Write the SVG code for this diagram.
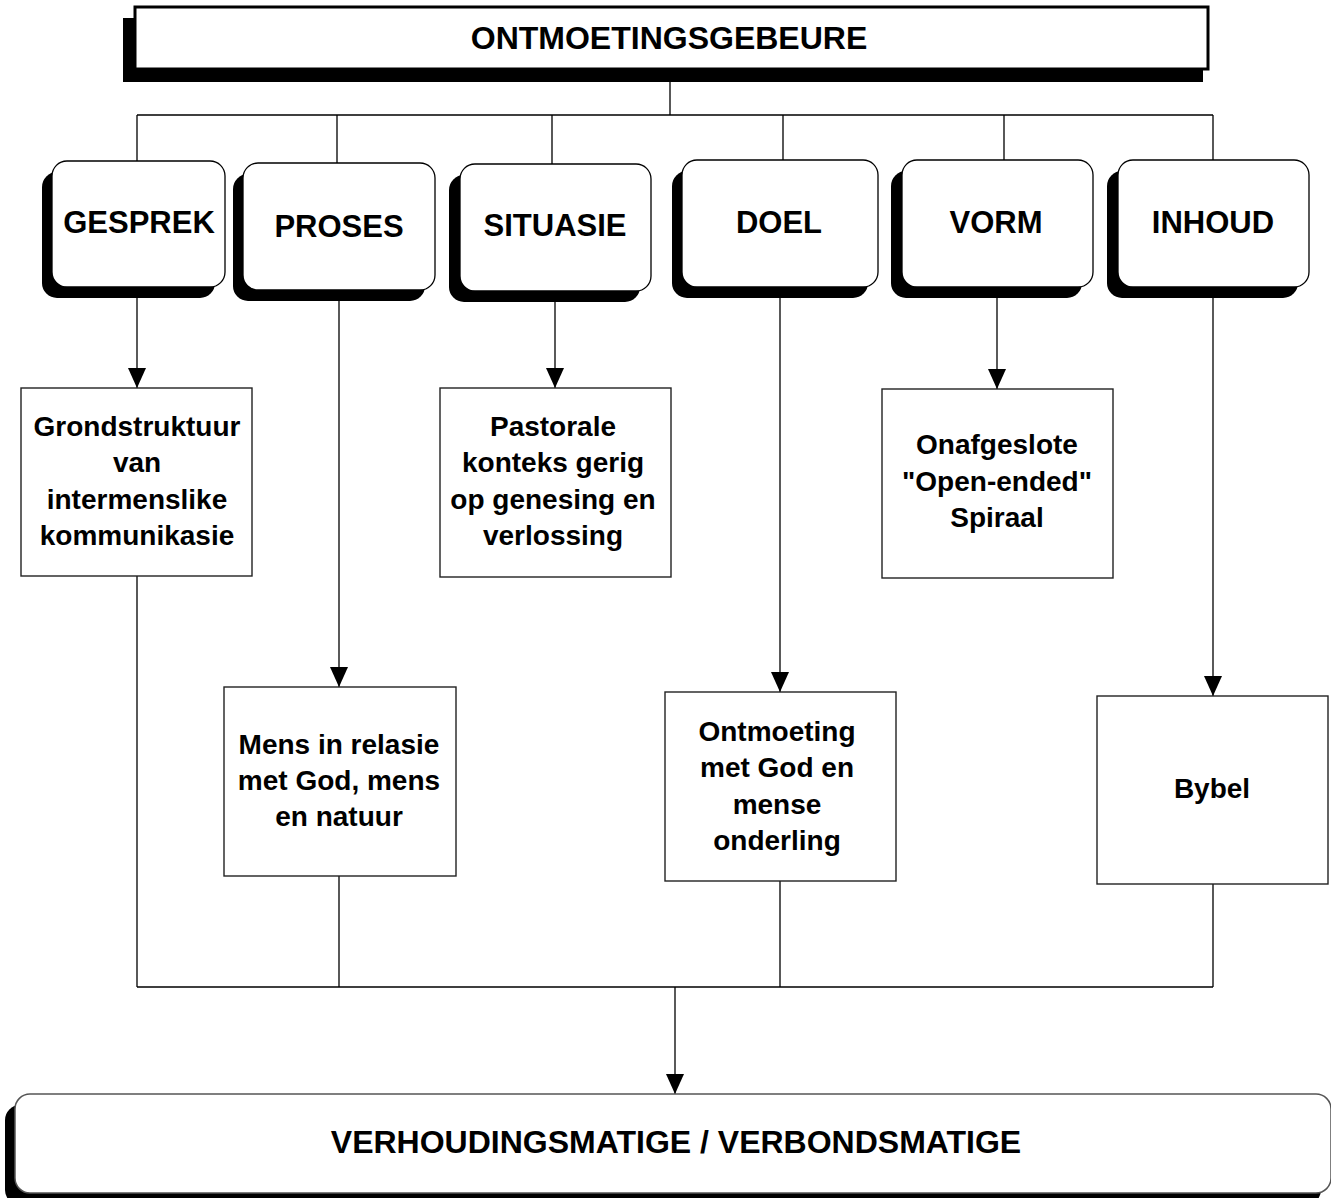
<svg xmlns="http://www.w3.org/2000/svg" width="1331" height="1198" viewBox="0 0 1331 1198">
<style>
text{font-family:"Liberation Sans",Arial,sans-serif;font-weight:bold;fill:#000;text-anchor:middle}
.h{font-size:31px}
.t{font-size:28px}
.big{font-size:32px}
.sh{fill:#000}
.rn{fill:#fff;stroke:#000;stroke-width:1.3}
.bx{fill:#fff;stroke:#222;stroke-width:1.4}
.ln{fill:none;stroke:#000;stroke-width:1.3}
</style>
<defs>
<marker id="ah" markerUnits="userSpaceOnUse" markerWidth="20" markerHeight="18" viewBox="0 0 20 18" refX="20" refY="9" orient="auto">
<path d="M0,0 L20,9 L0,18 Z" fill="#000"/>
</marker>
</defs>
<rect width="1331" height="1198" fill="#fff"/>

<g id="connectors">
<path class="ln" d="M670,82 V115 M137,115 H1213 M137,115 V161 M337,115 V163 M552,115 V164 M783,115 V160 M1004,115 V160 M1213,115 V160"/>
<path class="ln" d="M137,298 V388" marker-end="url(#ah)"/>
<path class="ln" d="M339,301 V687" marker-end="url(#ah)"/>
<path class="ln" d="M555,302 V388" marker-end="url(#ah)"/>
<path class="ln" d="M780,298 V692" marker-end="url(#ah)"/>
<path class="ln" d="M997,298 V389" marker-end="url(#ah)"/>
<path class="ln" d="M1213,298 V696" marker-end="url(#ah)"/>
<path class="ln" d="M137,575 V987 M339,876 V987 M780,881 V987 M1213,884 V987 M137,987 H1213"/>
<path class="ln" d="M675,987 V1094" marker-end="url(#ah)"/>
</g>

<g id="ontmoetingsgebeure">
<rect class="sh" x="123" y="18" width="1080" height="64"/>
<rect x="135" y="7" width="1073" height="62" fill="#fff" stroke="#000" stroke-width="3"/>
<text class="big" x="669" y="49">ONTMOETINGSGEBEURE</text>
</g>

<g id="gesprek">
<rect class="sh" x="42" y="172" width="173" height="126" rx="15"/>
<rect class="rn" x="52" y="161" width="173" height="126" rx="15"/>
<text class="h" x="139" y="233">GESPREK</text>
</g>
<g id="proses">
<rect class="sh" x="233" y="174" width="192" height="127" rx="15"/>
<rect class="rn" x="243" y="163" width="192" height="127" rx="15"/>
<text class="h" x="339" y="237">PROSES</text>
</g>
<g id="situasie">
<rect class="sh" x="449" y="175" width="191" height="127" rx="15"/>
<rect class="rn" x="460" y="164" width="191" height="127" rx="15"/>
<text class="h" x="555" y="236">SITUASIE</text>
</g>
<g id="doel">
<rect class="sh" x="672" y="171" width="196" height="127" rx="15"/>
<rect class="rn" x="682" y="160" width="196" height="127" rx="15"/>
<text class="h" x="779" y="233">DOEL</text>
</g>
<g id="vorm">
<rect class="sh" x="891" y="171" width="191" height="127" rx="15"/>
<rect class="rn" x="902" y="160" width="191" height="127" rx="15"/>
<text class="h" x="996" y="233">VORM</text>
</g>
<g id="inhoud">
<rect class="sh" x="1107" y="171" width="191" height="127" rx="15"/>
<rect class="rn" x="1118" y="160" width="191" height="127" rx="15"/>
<text class="h" x="1213" y="233">INHOUD</text>
</g>

<g id="grondstruktuur">
<rect class="bx" x="21" y="388" width="231" height="188"/>
<text class="t" x="137" y="436">Grondstruktuur</text>
<text class="t" x="137" y="472">van</text>
<text class="t" x="137" y="509">intermenslike</text>
<text class="t" x="137" y="545">kommunikasie</text>
</g>
<g id="pastorale">
<rect class="bx" x="440" y="388" width="231" height="189"/>
<text class="t" x="553" y="436">Pastorale</text>
<text class="t" x="553" y="472">konteks gerig</text>
<text class="t" x="553" y="509">op genesing en</text>
<text class="t" x="553" y="545">verlossing</text>
</g>
<g id="onafgeslote">
<rect class="bx" x="882" y="389" width="231" height="189"/>
<text class="t" x="997" y="454">Onafgeslote</text>
<text class="t" x="997" y="491">"Open-ended"</text>
<text class="t" x="997" y="527">Spiraal</text>
</g>
<g id="mens">
<rect class="bx" x="224" y="687" width="232" height="189"/>
<text class="t" x="339" y="754">Mens in relasie</text>
<text class="t" x="339" y="790">met God, mens</text>
<text class="t" x="339" y="826">en natuur</text>
</g>
<g id="ontmoeting">
<rect class="bx" x="665" y="692" width="231" height="189"/>
<text class="t" x="777" y="741">Ontmoeting</text>
<text class="t" x="777" y="777">met God en</text>
<text class="t" x="777" y="814">mense</text>
<text class="t" x="777" y="850">onderling</text>
</g>
<g id="bybel">
<rect class="bx" x="1097" y="696" width="231" height="188"/>
<text class="t" x="1212" y="798">Bybel</text>
</g>

<g id="verhoudingsmatige">
<rect class="sh" x="5" y="1105" width="1316" height="100" rx="15"/>
<rect x="15" y="1094" width="1316" height="99" rx="15" fill="#fff" stroke="#555" stroke-width="1.5"/>
<text class="big" x="676" y="1153">VERHOUDINGSMATIGE / VERBONDSMATIGE</text>
</g>
</svg>
